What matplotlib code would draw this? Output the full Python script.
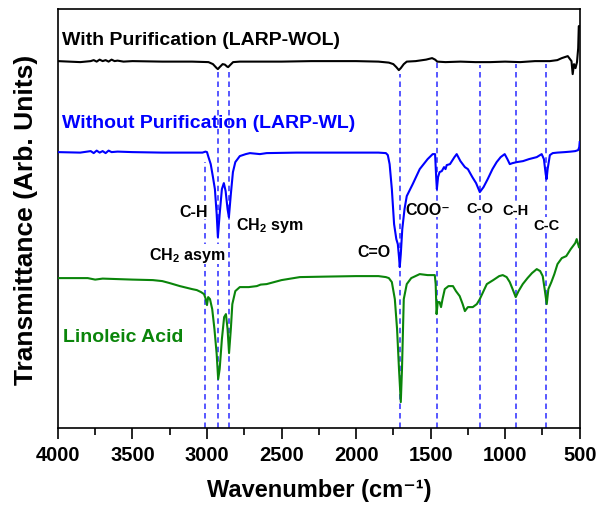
import numpy as np
import matplotlib
matplotlib.use("Agg")
import matplotlib.pyplot as plt
from matplotlib.ticker import MultipleLocator

plt.rcParams['font.family'] = ['Liberation Sans', 'DejaVu Sans']
plt.rcParams['font.weight'] = 'bold'
plt.rcParams['mathtext.fontset'] = 'custom'
plt.rcParams['mathtext.rm'] = 'Liberation Sans:bold'
plt.rcParams['mathtext.it'] = 'Liberation Sans:bold'
plt.rcParams['mathtext.bf'] = 'Liberation Sans:bold'

# FTIR spectra (wavenumber in cm-1, transmittance in arb. units, already offset)
wol_wn = [4000, 3850, 3780, 3760, 3740, 3720, 3700, 3680, 3660, 3640, 3620, 3600,
          3560, 3500, 3300, 3100, 2990, 2960, 2935, 2927, 2915, 2895, 2880, 2865,
          2858, 2845, 2825, 2780, 2500, 2300, 2000, 1850, 1780, 1750, 1730, 1713,
          1700, 1680, 1660, 1600, 1530, 1490, 1470, 1455, 1400, 1300, 1200, 1100,
          1000, 900, 800, 700, 650, 620, 600, 580, 565, 555, 547, 538, 528, 518,
          510, 506, 503]
wol_t = [367, 366, 367, 368, 366.5, 368.5, 367, 368, 366.5, 368.5, 367, 367.5,
         366.5, 367, 366.5, 366.5, 366, 364, 360, 359, 361, 364, 363.5, 361.5,
         361, 363, 366, 366.5, 366.5, 367, 367, 366.5, 365.5, 364, 361, 358,
         360, 364, 366.5, 367, 368.5, 370, 368.5, 366.5, 366, 366.5, 366, 366,
         366.5, 366, 367, 367, 368, 370, 371, 372, 369, 367, 354, 364, 360, 366,
         380, 402, 402]

wl_wn = [4000, 3850, 3780, 3760, 3740, 3720, 3700, 3680, 3660, 3640, 3600, 3500,
         3300, 3100, 3030, 3010, 3000, 2990, 2975, 2960, 2947, 2935, 2927, 2915,
         2900, 2887, 2875, 2862, 2853, 2840, 2826, 2810, 2780, 2740, 2712, 2645,
         2600, 2400, 2000, 1850, 1800, 1787, 1775, 1760, 1745, 1730, 1720, 1712,
         1707, 1700, 1690, 1675, 1660, 1620, 1573, 1520, 1486, 1470, 1462, 1458,
         1450, 1440, 1425, 1410, 1400, 1392, 1370, 1340, 1325, 1300, 1270, 1250,
         1220, 1195, 1170, 1145, 1117, 1085, 1057, 1030, 1003, 985, 969, 950,
         922, 880, 840, 788, 755, 740, 728, 722, 715, 700, 681, 650, 600, 560,
         530, 510, 503, 500]
wl_t = [276, 275.5, 277, 275, 277.5, 275.5, 277, 275, 277.5, 276, 276.5, 276,
        275.5, 275.5, 275.5, 276.5, 276, 271, 264, 251, 239, 214, 191, 214,
        239, 245, 237, 219, 211, 234, 256, 266, 272, 274, 275, 274,
        275, 275.5, 275.5, 275.5, 275, 273, 264, 239, 204, 189, 184, 171,
        161, 174, 199, 219, 232, 244, 259, 269, 274, 274, 249, 239,
        251, 256, 257, 261, 259, 263, 264, 271, 274, 267, 261, 259,
        251, 245, 236, 241, 249, 259, 266, 271, 274, 269, 264, 265,
        266, 267, 269, 271, 274, 269, 254, 249, 259, 273, 275, 275.5, 276, 276.5,
        277, 278, 281, 286]

la_wn = [4000, 3800, 3750, 3700, 3600, 3500, 3363, 3300, 3250, 3182, 3100, 3068,
         3040, 3020, 3008, 3000, 2992, 2980, 2965, 2950, 2935, 2925, 2915, 2900,
         2885, 2873, 2862, 2852, 2840, 2830, 2810, 2780, 2720, 2666, 2640, 2600,
         2500, 2377, 2200, 2000, 1850, 1800, 1780, 1760, 1740, 1725, 1712, 1700,
         1692, 1680, 1660, 1630, 1573, 1520, 1472, 1466, 1460, 1452, 1440, 1430,
         1420, 1405, 1380, 1350, 1330, 1305, 1285, 1270, 1250, 1217, 1190, 1170,
         1145, 1123, 1080, 1040, 1016, 990, 969, 950, 929, 910, 882, 850, 820,
         788, 765, 748, 735, 721, 710, 690, 670, 649, 620, 590, 560, 530, 520, 505]
la_t = [150, 150, 148.5, 149.5, 149, 148.5, 148, 147, 145, 142, 139, 138,
        136, 134, 129, 123, 131, 129, 119, 99, 74, 49, 59, 89,
        111, 114, 99, 75, 99, 124, 137, 141, 141, 142, 143.5, 144,
        148, 151, 151.5, 152, 152, 151, 150, 146, 129, 99, 59, 26,
        59, 129, 144, 150, 154, 153, 153, 144, 114, 126, 126, 121,
        129, 139, 142, 142, 137, 132, 124, 117, 121, 121, 124, 129,
        137, 144, 148, 152, 153, 151, 146, 139, 131, 137, 144, 150, 155,
        159, 157, 152, 139, 124, 139, 146, 154, 164, 170, 172, 179, 185, 189, 181]

# band assignments: position, top of the dashed marker
band_wn = [3010, 2927, 2853, 1707, 1460, 1170, 929, 728]
band_top = [266, 357, 357, 354, 366, 363, 364, 364]

fig, ax = plt.subplots(figsize=(5.97, 5.06), dpi=100)
plt.subplots_adjust(left=0.097, right=0.971, bottom=0.152, top=0.980)

for wn, top in zip(band_wn, band_top):
    ax.plot([wn, wn], [0, top], color='#2a2aff', lw=1.1,
            linestyle=(0, (3.6, 2.6)), zorder=1)

ax.plot(wol_wn, wol_t, color='black', lw=1.5, zorder=3)
ax.plot(wl_wn, wl_t, color='#0000ff', lw=1.5, zorder=3)
ax.plot(la_wn, la_t, color='#0a850a', lw=1.5, zorder=3)

ax.text(3973, 389, 'With Purification (LARP-WOL)', color='black',
        fontsize=14, fontweight='bold', ha='left', va='center')
ax.text(3973, 306, 'Without Purification (LARP-WL)', color='#0000ff',
        fontsize=14, fontweight='bold', ha='left', va='center')
ax.text(3966, 92, 'Linoleic Acid', color='#0a850a',
        fontsize=14, fontweight='bold', ha='left', va='center')

box = dict(facecolor='white', edgecolor='none', pad=0.5)
labels = [
    (3088, 217, 'C-H', 11.5),
    (3135, 174, 'CH$_2$ asym', 11.5),
    (2579, 204, 'CH$_2$ sym', 11.5),
    (1881, 177, 'C=O', 11.5),
    (1519, 219, 'COO\u207b', 11.5),
    (1171, 220, 'C-O', 10.5),
    (929, 218, 'C-H', 10.5),
    (721, 203, 'C-C', 10.5),
]
for x, y, s, fs in labels:
    ax.text(x, y, s, fontsize=fs, fontweight='bold', ha='center',
            va='center', bbox=box, zorder=2)

ax.set_xlim(4000, 500)
ax.set_ylim(0, 419)
ax.xaxis.set_major_locator(MultipleLocator(500))
ax.xaxis.set_minor_locator(MultipleLocator(250))
ax.tick_params(axis='x', which='major', direction='out', length=8, width=1.2,
               labelsize=14.5, pad=4)
ax.tick_params(axis='x', which='minor', direction='out', length=5, width=1.2)
ax.set_yticks([])
for sp in ax.spines.values():
    sp.set_linewidth(1.2)

ax.set_xlabel('Wavenumber (cm\u207b\u00b9)', fontsize=17, fontweight='bold', labelpad=10)
ax.set_ylabel('Transmittance (Arb. Units)', fontsize=19, fontweight='bold', labelpad=14)

plt.savefig('out.png', dpi=100)
